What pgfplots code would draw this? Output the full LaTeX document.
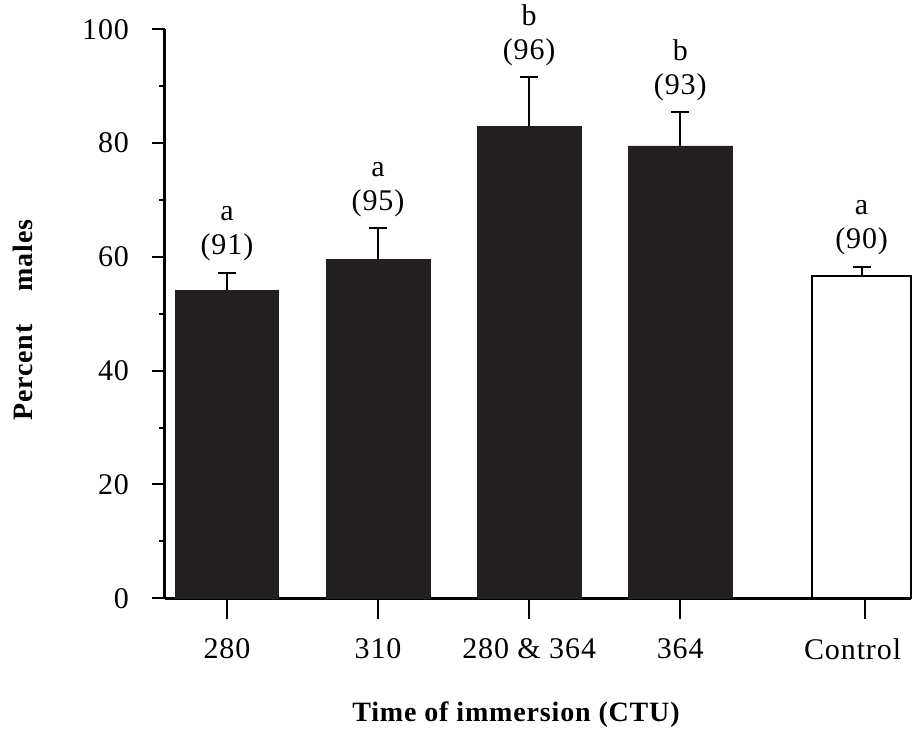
\documentclass[border=0pt]{standalone}
\usepackage{fontspec}
\setmainfont{Liberation Serif}[LetterSpace=3]
\usepackage{pgfplots}
\pgfplotsset{compat=1.18}
\definecolor{barblack}{HTML}{231F20}
\begin{document}
\begin{tikzpicture}
\begin{axis}[name=ax, scale only axis, width=373pt, height=284.5pt,
  xmin=0.59, xmax=5.527, ymin=0, ymax=100,
  axis x line*=bottom, axis y line*=left,
  axis line style={line width=1.5pt, black},
  ytick={0,20,...,100}, minor ytick={10,30,...,90},
  xtick={1,2,3,4,5.22}, xticklabels={280,310,280 \& 364,364,Control\rule{12pt}{0pt}},
  tick align=outside, major tick length=6.5pt, minor tick length=3pt,
  tick style={line width=1pt, black},
  x tick style={/pgfplots/major tick length=10.5pt},
  /pgf/number format/assume math mode=true,
  ticklabel style={font=\fontsize{15}{18}\selectfont},
  xticklabel style={yshift=-10pt},
  yticklabel style={xshift=-8pt},
  label style={font=\fontsize{14}{17}\selectfont\bfseries},
  ylabel={Percent\hspace{16.5pt}males},
  xlabel={Time of immersion (CTU)},
  ylabel style={at={(axis description cs:-0.190,0.489)}, anchor=center},
  xlabel style={at={(axis description cs:0.4705,-0.205)}, anchor=center},
  clip=false,
]
\addplot[ybar, bar shift=0pt, bar width=0.687, fill=barblack, draw=barblack,
  error bars/.cd, y dir=plus, y explicit,
  error bar style={line width=1pt, black},
  error mark options={line width=1pt, mark size=4.5pt, black, rotate=90}]
  coordinates {
    (1,54.1) +- (0,3.1)
    (2,59.6) +- (0,5.4)
    (3,83.0) +- (0,8.6)
    (4,79.5) +- (0,5.9)
  };
\addplot[ybar, bar shift=0pt, bar width=0.655, fill=white, draw=black, line width=1pt,
  error bars/.cd, y dir=plus, y explicit,
  error bar style={line width=1pt, black},
  error mark options={line width=1pt, mark size=4.5pt, black, rotate=90}]
  coordinates {
    (5.2,56.7) +- (0,1.6)
  };
\begin{scope}[every node/.style={anchor=base, inner sep=0pt, font=\fontsize{15}{18}\selectfont}]
\node[yshift=9pt]  at (axis cs:1,57.2) {(91)};
\node[yshift=26pt] at (axis cs:1,57.2) {a};
\node[yshift=9pt]  at (axis cs:2,65.0) {(95)};
\node[yshift=26pt] at (axis cs:2,65.0) {a};
\node[yshift=9pt]  at (axis cs:3,91.6) {(96)};
\node[yshift=26pt] at (axis cs:3,91.6) {b};
\node[yshift=9pt]  at (axis cs:4,85.4) {(93)};
\node[yshift=26pt] at (axis cs:4,85.4) {b};
\node[yshift=9pt]  at (axis cs:5.2,58.3) {(90)};
\node[yshift=26pt] at (axis cs:5.2,58.3) {a};
\end{scope}
\end{axis}
\pgfresetboundingbox
\path[use as bounding box] ([xshift=-82.5pt,yshift=-66.35pt]ax.south west) rectangle ++(456pt,365.5pt);
\end{tikzpicture}
\end{document}
